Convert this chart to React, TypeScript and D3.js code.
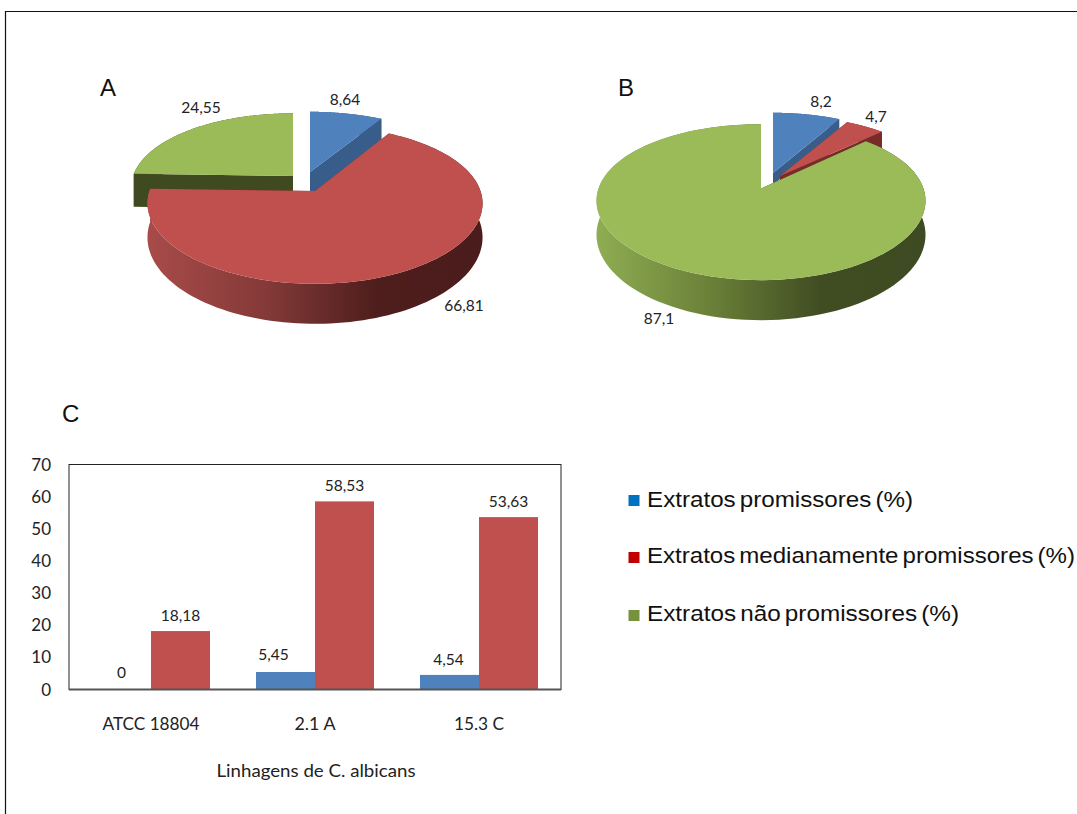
import React from "react";
import * as d3 from "d3";

// Pie shares per panel
const pieALabels = ["8,64", "66,81", "24,55"];
const pieAValues = [8.64, 66.81, 24.55];
const pieBLabels = ["8,2", "4,7", "87,1"];
const pieBValues = [8.2, 4.7, 87.1];

// Bar panel
const strains = ["ATCC 18804", "2.1 A", "15.3 C"];
const promising = [0, 5.45, 4.54];
const moderate = [18.18, 58.53, 53.63];
const yTicks = [0, 10, 20, 30, 40, 50, 60, 70];

const legendItems = [
  "Extratos promissores (%)",
  "Extratos medianamente promissores (%)",
  "Extratos não promissores (%)",
];
const legendColors = ["#0070c0", "#c00000", "#76923c"];

const TOP = ["#4f81bd", "#c0504d", "#9bbb59"];
const WALL = ["#385d8a", "#772c2a", "#3f4a21"];
const CAL = "Lato, 'Open Sans', sans-serif";
const ARIAL = "'Liberation Sans', Arial, sans-serif";

type Wedge = {
  cx: number; cy: number; rx: number; ry: number;
  depth: number; depthNear: number; rim?: string;
};

// Foreshortened disc: points nearer the viewer spread wider and lower
function project(w: Wedge, theta: number, r = 1): [number, number] {
  const u = Math.sin(theta) * r;
  const v = -Math.cos(theta) * r;
  return [w.cx + w.rx * u * (1 + 0.16 * v), w.cy + w.ry * v * (1 + 0.175 * v)];
}
const drop = (w: Wedge, theta: number, r = 1) => w.depth + w.depthNear * (-Math.cos(theta) * r);

const line = d3.line<[number, number]>();

function Slice({ w, start, end, index }: { w: Wedge; start: number; end: number; index: number }) {
  const angles = d3.range(0, 121).map((i) => start + ((end - start) * i) / 120);
  const arc = angles.map((a) => project(w, a));
  const apex: [number, number] = [w.cx, w.cy];
  const top = line([apex, ...arc])! + "Z";
  const lower = angles.map((a) => {
    const [x, y] = project(w, a);
    return [x, y + drop(w, a)] as [number, number];
  });
  const rim = line([...arc, ...lower.slice().reverse()])! + "Z";
  const apexLow: [number, number] = [w.cx, w.cy + w.depth];
  const edge = (idx: number) => line([apex, arc[idx], lower[idx], apexLow])! + "Z";
  return (
    <g>
      <path d={edge(0)} fill={WALL[index]} />
      <path d={edge(120)} fill={WALL[index]} />
      <path d={rim} fill={w.rim ?? WALL[index]} />
      <path d={top} fill={TOP[index]} />
    </g>
  );
}

function Pie3D({ values, wedges, order }: { values: number[]; wedges: Wedge[]; order: number[] }) {
  const arcs = d3.pie<number>().sort(null)(values);
  return (
    <g>
      {order.map((i) => (
        <Slice key={i} w={wedges[i]} start={arcs[i].startAngle} end={arcs[i].endAngle} index={i} />
      ))}
    </g>
  );
}

const wedgesA: Wedge[] = [
  { cx: 310, cy: 172, rx: 160, ry: 73, depth: 24, depthNear: 4 },
  { cx: 315, cy: 191, rx: 165.5, ry: 79, depth: 33, depthNear: 7, rim: "url(#rimRed)" },
  { cx: 293, cy: 176, rx: 160, ry: 76, depth: 33, depthNear: 3 },
];
const wedgesB: Wedge[] = [
  { cx: 773, cy: 173, rx: 156, ry: 73, depth: 12, depthNear: 2 },
  { cx: 780, cy: 176, rx: 158, ry: 73, depth: 20, depthNear: 3 },
  { cx: 761, cy: 188.5, rx: 162.5, ry: 78, depth: 33, depthNear: 7, rim: "url(#rimGreen)" },
];

const pieTexts: [string, number, number][] = [
  [pieALabels[0], 345, 105],
  [pieALabels[2], 201, 113],
  [pieALabels[1], 464, 311],
  [pieBLabels[0], 821, 107],
  [pieBLabels[1], 876, 122],
  [pieBLabels[2], 659, 324],
];

// Hand placement of the value captions above the bars
const blueLabelNudge: [number, number][] = [[0, 0], [-12, 0], [-1, 2]];
const redLabelNudge: [number, number][] = [[0, 2], [0, 2], [0, 2]];
const categoryWidths = [97, 41, 50];

export default function App() {
  const x0 = d3.scaleBand<string>().domain(strains).range([69, 561]);
  const barW = 59;
  const y = d3.scaleLinear().domain([0, 70]).range([689.5, 464.5]);
  const groupLeft = (s: string) => x0(s)! + x0.bandwidth() / 2 - barW;
  return (
    <svg
      width={1077}
      height={814}
      style={{ position: "absolute", left: 0, top: 0, background: "#fff" }}
    >
      <defs>
        <linearGradient id="rimRed" gradientUnits="userSpaceOnUse" x1={148} x2={483} y1={0} y2={0}>
          <stop offset="0" stopColor="#a84b49" />
          <stop offset="0.35" stopColor="#843a38" />
          <stop offset="0.68" stopColor="#4e1e1d" />
          <stop offset="1" stopColor="#4a1c1b" />
        </linearGradient>
        <linearGradient id="rimGreen" gradientUnits="userSpaceOnUse" x1={596} x2={925} y1={0} y2={0}>
          <stop offset="0" stopColor="#8fad53" />
          <stop offset="0.35" stopColor="#6a8038" />
          <stop offset="0.68" stopColor="#404d22" />
          <stop offset="1" stopColor="#3e4a21" />
        </linearGradient>
      </defs>

      <path d="M5.5 814V11.5H1077" fill="none" stroke="#111" strokeWidth={1.2} />

      <Pie3D values={pieAValues} wedges={wedgesA} order={[2, 0, 1]} />
      <Pie3D values={pieBValues} wedges={wedgesB} order={[0, 1, 2]} />
      {pieTexts.map(([t, px, py]) => (
        <text key={t} x={px} y={py} textAnchor="middle" fontFamily={CAL} fontSize={15.5} fill="#222">
          {t}
        </text>
      ))}

      <text x={100} y={96} fontFamily={ARIAL} fontSize={24} fill="#111">A</text>
      <text x={618} y={96} fontFamily={ARIAL} fontSize={24} fill="#111">B</text>
      <text x={62} y={422} fontFamily={ARIAL} fontSize={24} fill="#111">C</text>

      <rect x={69} y={y(70)} width={492} height={y(0) - y(70)} fill="none" stroke="#222" strokeWidth={1} />
      {strains.map((s, i) => (
        <g key={s}>
          {promising[i] > 0 && (
            <rect x={groupLeft(s)} y={y(promising[i])} width={barW} height={y(0) - y(promising[i])} fill={TOP[0]} />
          )}
          <rect x={groupLeft(s) + barW} y={y(moderate[i])} width={barW} height={y(0) - y(moderate[i])} fill={TOP[1]} />
          <text
            x={groupLeft(s) + barW / 2 + blueLabelNudge[i][0]}
            y={y(promising[i]) - 12 + blueLabelNudge[i][1]}
            textAnchor="middle" fontFamily={CAL} fontSize={15.5} fill="#222"
          >
            {String(promising[i]).replace(".", ",")}
          </text>
          <text
            x={groupLeft(s) + barW * 1.5 + redLabelNudge[i][0]}
            y={y(moderate[i]) - 12 + redLabelNudge[i][1]}
            textAnchor="middle" fontFamily={CAL} fontSize={15.5} fill="#222"
          >
            {String(moderate[i]).replace(".", ",")}
          </text>
          <text
            x={x0(s)! + x0.bandwidth() / 2} y={730} textAnchor="middle"
            fontFamily={CAL} fontSize={18} fill="#222"
            textLength={categoryWidths[i]} lengthAdjust="spacingAndGlyphs"
          >
            {s}
          </text>
        </g>
      ))}
      <line x1={69} x2={561} y1={y(0)} y2={y(0)} stroke="#555" strokeWidth={2} />
      {yTicks.map((t) => (
        <text key={t} x={51} y={y(t) + 6} textAnchor="end" fontFamily={CAL} fontSize={17} fill="#222">
          {t}
        </text>
      ))}
      <text
        x={316} y={777} textAnchor="middle" fontFamily={CAL} fontSize={18} fill="#222"
        textLength={199} lengthAdjust="spacingAndGlyphs"
      >
        Linhagens de C. albicans
      </text>

      {legendItems.map((t, i) => (
        <g key={t}>
          <rect x={628.5} y={[495, 552, 610][i]} width={11} height={11} fill={legendColors[i]} />
          <text
            x={647} y={[507, 563, 621][i]} fontFamily={ARIAL} fontSize={22.5} wordSpacing={-2.5} fill="#111"
            textLength={[266, 428, 312][i]} lengthAdjust="spacingAndGlyphs"
          >
            {t}
          </text>
        </g>
      ))}
    </svg>
  );
}
